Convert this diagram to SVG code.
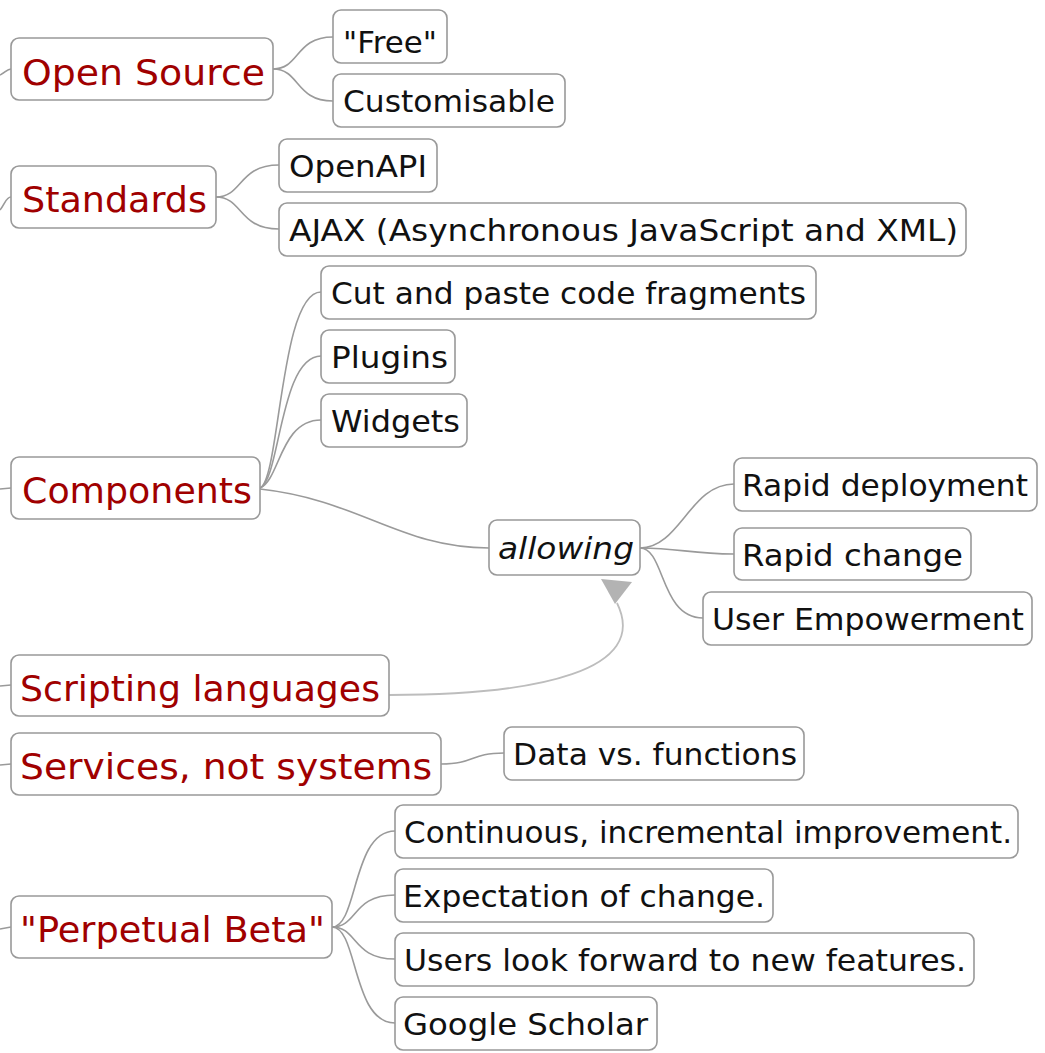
<svg xmlns="http://www.w3.org/2000/svg" width="1045" height="1053" viewBox="0 0 1045 1053">
<style>
.box{fill:#fff;stroke:#999;stroke-width:1.6}
.main{font-family:"DejaVu Sans","Liberation Sans",sans-serif;font-size:36px;fill:#a00000}
.sub{font-family:"DejaVu Sans","Liberation Sans",sans-serif;font-size:30.5px;fill:#111}
.it{font-style:italic}
.con{fill:none;stroke:#9a9a9a;stroke-width:1.6}
.rel{fill:none;stroke:#bdbdbd;stroke-width:1.8}
</style>
<rect width="1045" height="1053" fill="#fff"/>
<g id="connectors">
<path class="con" d="M0,75 C5,73 7,69 11,69"/>
<path class="con" d="M0,210 C5,204 6,197 11,197"/>
<path class="con" d="M0,489 L11,488"/>
<path class="con" d="M0,686 L11,685"/>
<path class="con" d="M0,765 L11,764"/>
<path class="con" d="M0,929 L11,927"/>
<path class="con" d="M273,69 C300,69 295,37 333,37"/>
<path class="con" d="M273,69 C300,69 295,101 333,101"/>
<path class="con" d="M216,197 C243,197 238,165 279,165"/>
<path class="con" d="M216,197 C243,197 238,229 279,229"/>
<path class="con" d="M260,488 C280,480 280,292 321,292"/>
<path class="con" d="M260,488 C280,480 280,356 321,356"/>
<path class="con" d="M260,488 C280,480 280,420 321,420"/>
<path class="con" d="M260,489 C360,500 400,548 489,548"/>
<path class="con" d="M640,548 C680,548 690,484 734,484"/>
<path class="con" d="M640,548 C680,548 690,554 734,554"/>
<path class="con" d="M640,548 C665,548 660,618 703,618"/>
<path class="con" d="M441,764 C475,764 470,753 504,753"/>
<path class="con" d="M332,927 C358,927 352,831 395,831"/>
<path class="con" d="M332,927 C358,927 352,895 395,895"/>
<path class="con" d="M332,927 C358,927 352,959 395,959"/>
<path class="con" d="M332,927 C358,927 352,1023 395,1023"/>
<path class="rel" d="M389,695 C540,695 650,670 617,603"/>
<polygon points="601,579 632,582 615,604" fill="#b3b3b3"/>
</g>
<g id="open-source"><rect class="box" x="11" y="38" width="262" height="62" rx="8"/><text class="main" x="22" y="85" textLength="243" lengthAdjust="spacingAndGlyphs">Open Source</text></g>
<g id="free"><rect class="box" x="333" y="10" width="114" height="53" rx="8"/><text class="sub" x="343" y="53" textLength="94" lengthAdjust="spacingAndGlyphs">"Free"</text></g>
<g id="customisable"><rect class="box" x="333" y="74" width="232" height="53" rx="8"/><text class="sub" x="343" y="112" textLength="212" lengthAdjust="spacingAndGlyphs">Customisable</text></g>
<g id="standards"><rect class="box" x="11" y="166" width="205" height="62" rx="8"/><text class="main" x="22" y="212" textLength="185" lengthAdjust="spacingAndGlyphs">Standards</text></g>
<g id="openapi"><rect class="box" x="279" y="139" width="158" height="53" rx="8"/><text class="sub" x="289" y="177" textLength="138" lengthAdjust="spacingAndGlyphs">OpenAPI</text></g>
<g id="ajax"><rect class="box" x="279" y="203" width="687" height="53" rx="8"/><text class="sub" x="289" y="241" textLength="669" lengthAdjust="spacingAndGlyphs">AJAX (Asynchronous JavaScript and XML)</text></g>
<g id="cut-paste"><rect class="box" x="321" y="266" width="495" height="53" rx="8"/><text class="sub" x="331" y="304" textLength="475" lengthAdjust="spacingAndGlyphs">Cut and paste code fragments</text></g>
<g id="plugins"><rect class="box" x="321" y="330" width="134" height="53" rx="8"/><text class="sub" x="331" y="368" textLength="117" lengthAdjust="spacingAndGlyphs">Plugins</text></g>
<g id="widgets"><rect class="box" x="321" y="394" width="146" height="53" rx="8"/><text class="sub" x="331" y="432" textLength="129" lengthAdjust="spacingAndGlyphs">Widgets</text></g>
<g id="components"><rect class="box" x="11" y="457" width="249" height="62" rx="8"/><text class="main" x="22" y="503" textLength="230" lengthAdjust="spacingAndGlyphs">Components</text></g>
<g id="allowing"><rect class="box" x="489" y="520" width="151" height="55" rx="8"/><text class="sub it" x="498" y="559" textLength="136" lengthAdjust="spacingAndGlyphs">allowing</text></g>
<g id="rapid-deployment"><rect class="box" x="734" y="458" width="303" height="53" rx="8"/><text class="sub" x="742" y="496" textLength="286" lengthAdjust="spacingAndGlyphs">Rapid deployment</text></g>
<g id="rapid-change"><rect class="box" x="734" y="528" width="237" height="52" rx="8"/><text class="sub" x="742" y="566" textLength="221" lengthAdjust="spacingAndGlyphs">Rapid change</text></g>
<g id="user-empowerment"><rect class="box" x="703" y="592" width="329" height="53" rx="8"/><text class="sub" x="712" y="630" textLength="312" lengthAdjust="spacingAndGlyphs">User Empowerment</text></g>
<g id="scripting"><rect class="box" x="11" y="655" width="378" height="61" rx="8"/><text class="main" x="20" y="701" textLength="360" lengthAdjust="spacingAndGlyphs">Scripting languages</text></g>
<g id="services"><rect class="box" x="11" y="733" width="430" height="62" rx="8"/><text class="main" x="20" y="779" textLength="412" lengthAdjust="spacingAndGlyphs">Services, not systems</text></g>
<g id="data-functions"><rect class="box" x="504" y="727" width="300" height="53" rx="8"/><text class="sub" x="513" y="765" textLength="284" lengthAdjust="spacingAndGlyphs">Data vs. functions</text></g>
<g id="perpetual-beta"><rect class="box" x="11" y="896" width="321" height="62" rx="8"/><text class="main" x="20" y="942" textLength="305" lengthAdjust="spacingAndGlyphs">"Perpetual Beta"</text></g>
<g id="continuous"><rect class="box" x="395" y="805" width="623" height="53" rx="8"/><text class="sub" x="404" y="843" textLength="608" lengthAdjust="spacingAndGlyphs">Continuous, incremental improvement.</text></g>
<g id="expectation"><rect class="box" x="395" y="869" width="378" height="53" rx="8"/><text class="sub" x="403" y="907" textLength="362" lengthAdjust="spacingAndGlyphs">Expectation of change.</text></g>
<g id="users-forward"><rect class="box" x="395" y="933" width="579" height="53" rx="8"/><text class="sub" x="404" y="971" textLength="562" lengthAdjust="spacingAndGlyphs">Users look forward to new features.</text></g>
<g id="google-scholar"><rect class="box" x="395" y="997" width="262" height="53" rx="8"/><text class="sub" x="403" y="1035" textLength="245" lengthAdjust="spacingAndGlyphs">Google Scholar</text></g>
</svg>
